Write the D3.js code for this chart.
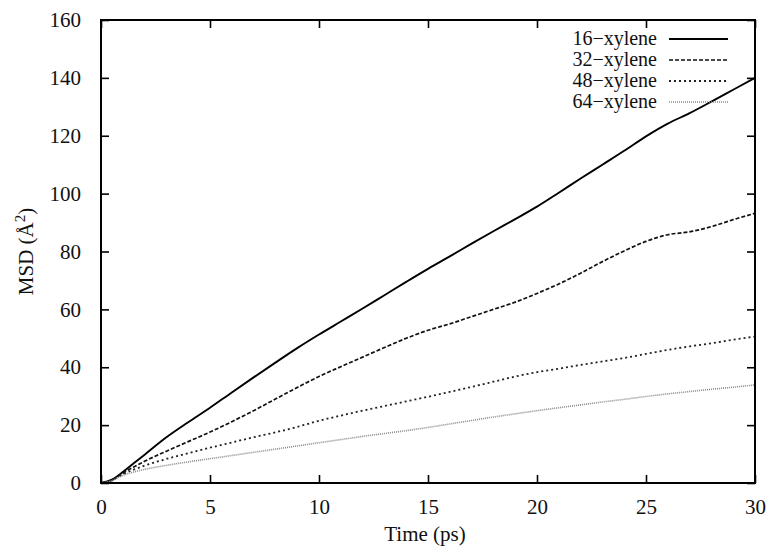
<!DOCTYPE html>
<html><head><meta charset="utf-8">
<script src="https://cdn.jsdelivr.net/npm/d3@7"></script>
<style>body{margin:0;background:#fff}svg{display:block}</style>
</head><body><svg id="c" width="768" height="546"></svg>
<script>
const times = [0,0.5,1,1.5,2,3,4,5,6,7,8,9,10,11,12,13,14,15,16,17,18,19,20,21,22,23,24,25,26,27,28,29,30];
const msd16 = [0,1.2,3.8,6.8,9.8,15.8,21,26,31.3,36.5,41.6,46.6,51.3,55.8,60.3,64.9,69.5,74,78.3,82.7,87,91.2,95.5,100.3,105.2,110,114.8,119.8,124.2,127.8,131.8,135.9,140];
const msd32 = [0,1,3.4,5.5,7.5,11,14.3,17.6,21.2,25,29,33,36.8,40.2,43.5,46.8,50,52.8,55,57.5,60,62.5,65.5,68.8,72.5,76.5,80.2,83.5,85.8,86.8,88.6,91,93.2];
const msd48 = [0,0.9,3,4.6,6,8.3,10.3,12.2,14,15.8,17.5,19.4,21.5,23.3,25,26.6,28.2,29.8,31.5,33.2,35,36.8,38.3,39.5,40.8,42,43.2,44.6,46,47.2,48.3,49.5,50.6];
const msd64 = [0,0.8,2.6,3.8,4.7,6.1,7.3,8.4,9.5,10.6,11.7,12.8,13.9,15,16.1,17.1,18.1,19.2,20.4,21.6,22.8,23.9,25,26,27,28,28.9,29.9,30.8,31.6,32.4,33.1,33.9];
const seriesNames = ["16\u2212xylene","32\u2212xylene","48\u2212xylene","64\u2212xylene"];
const xTicks = [0,5,10,15,20,25,30];
const yTicks = [0,20,40,60,80,100,120,140,160];

const FONT = "'Liberation Serif', 'DejaVu Serif', serif";
const svg = d3.select("#c");
const L=101,R=755,T=20,B=483;
const x = d3.scaleLinear().domain([0,30]).range([L,R]);
const y = d3.scaleLinear().domain([0,160]).range([B,T]);

const styles = [
  {stroke:"#000",w:1.9,dash:null},
  {stroke:"#111",w:1.7,dash:"4,2"},
  {stroke:"#222",w:1.8,dash:"2,3"},
  {stroke:"#8a8a8a",w:1.6,dash:"1,1"}
];
const data = [msd16,msd32,msd48,msd64];

const line = d3.line().curve(d3.curveMonotoneX).x((d,i)=>x(times[i])).y(d=>y(d));
const g = svg.append("g");
data.forEach((s,k)=>{
  g.append("path").attr("d",line(s)).attr("fill","none")
   .attr("stroke",styles[k].stroke).attr("stroke-width",styles[k].w)
   .attr("stroke-dasharray",styles[k].dash);
});

const tl=8;
const ax = svg.append("g").attr("transform",`translate(0,${B})`)
  .call(d3.axisBottom(x).tickValues(xTicks).tickSize(-tl).tickPadding(16).tickFormat(d3.format("d")));
const axT = svg.append("g").attr("transform",`translate(0,${T})`)
  .call(d3.axisTop(x).tickValues(xTicks).tickSize(-tl).tickFormat(""));
const ay = svg.append("g").attr("transform",`translate(${L},0)`)
  .call(d3.axisLeft(y).tickValues(yTicks).tickSize(-tl).tickPadding(20).tickFormat(d3.format("d")));
const ayR = svg.append("g").attr("transform",`translate(${R},0)`)
  .call(d3.axisRight(y).tickValues(yTicks).tickSize(-tl).tickFormat(""));
[ax,axT,ay,ayR].forEach(a=>{
  a.attr("font-family",FONT).attr("font-size",21);
  a.select(".domain").remove();
  a.selectAll(".tick line").attr("stroke","#000").attr("stroke-width",1.6);
  a.selectAll("text").attr("font-family",FONT).attr("font-size",21).attr("fill","#111");
});
svg.append("rect").attr("x",L).attr("y",T).attr("width",R-L).attr("height",B-T)
  .attr("fill","none").attr("stroke","#000").attr("stroke-width",2);

svg.append("text").attr("x",(L+R)/2-3).attr("y",541).attr("text-anchor","middle")
  .attr("font-family",FONT).attr("font-size",21).attr("fill","#111").text("Time (ps)");
const yl = svg.append("text").attr("transform",`translate(33,${(T+B)/2}) rotate(-90)`)
  .attr("text-anchor","middle").attr("font-family",FONT).attr("font-size",21).attr("fill","#111");
yl.append("tspan").text("MSD (\u00C5");
yl.append("tspan").attr("dy",-8).attr("font-size",15).text("2");
yl.append("tspan").attr("dy",8).text(")");

const lg = svg.append("g");
seriesNames.forEach((n,k)=>{
  const yy = 39 + k*21;
  lg.append("text").attr("x",657).attr("y",yy+6).attr("text-anchor","end")
    .attr("font-family",FONT).attr("font-size",20).attr("fill","#111").text(n);
  lg.append("line").attr("x1",669).attr("x2",728).attr("y1",yy).attr("y2",yy)
    .attr("stroke",styles[k].stroke).attr("stroke-width",styles[k].w)
    .attr("stroke-dasharray",styles[k].dash);
});
</script></body></html>
